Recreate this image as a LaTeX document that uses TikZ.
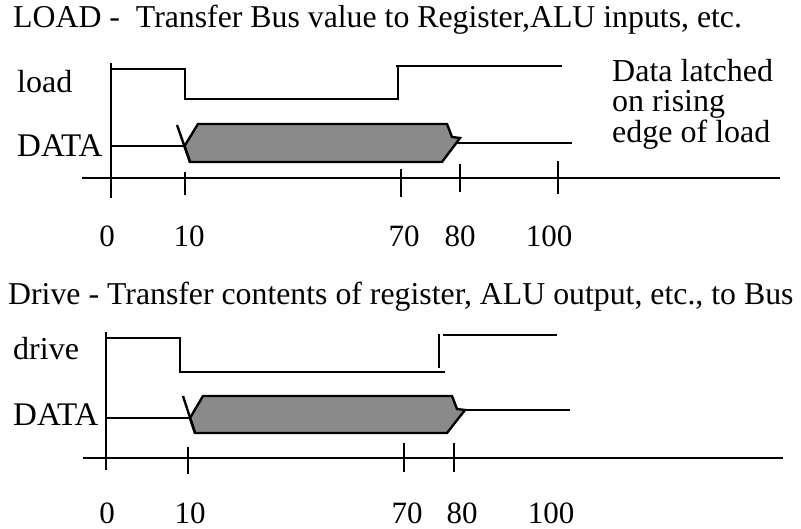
\documentclass[tikz,border=0pt]{standalone}
\usepackage{fontspec}
\setmainfont{Liberation Serif}
\begin{document}
\begin{tikzpicture}[x=1pt,y=-1pt,
  sig/.style={line width=2.4pt,line join=miter},
  lbl/.style={anchor=base west,inner sep=0pt,font=\fontsize{32}{31}\selectfont},
  num/.style={anchor=base,inner sep=0pt,font=\fontsize{31}{31}\selectfont},
  ttl/.style={anchor=base west,inner sep=0pt,font=\fontsize{31.8}{32}\selectfont},
  bus/.style={line width=2.4pt,line join=miter,fill={rgb,255:red,138;green,138;blue,138}}]
\useasboundingbox (0,0) rectangle (801,529);
% ---------- LOAD ----------
\node[ttl] (t1) at (13,28) {LOAD -\ \ Transfer Bus value to Register,ALU inputs, etc.};
\node[lbl] (l1) at (17,93) {load};
\node[lbl,font=\fontsize{33}{33}\selectfont] (d1) at (17,157) {DATA};
\draw[sig] (111,63) -- (111,198);
\draw[sig] (111,69) -- (185,69) -- (185,99) -- (398,99) -- (398,66) -- (562,66);
\draw[sig] (396,66) -- (398,66);
\draw[sig] (111,146) -- (185,146);
\draw[bus] (184.5,146) -- (198,124) -- (447,124) -- (452,137) -- (460,138) -- (442,162) -- (190,162) -- cycle;
\draw[sig] (177,125) -- (190,162);
\draw[sig] (456,143) -- (572,143);
\draw[sig] (82,178) -- (780,178);
\draw[sig] (185,172) -- (185,195);
\draw[sig] (401,169) -- (401,197);
\draw[sig] (460,164) -- (460,192);
\draw[sig] (558,161) -- (558,194);
\node[num] (a0) at (107,247) {0};
\node[num] (a10) at (189,247) {10};
\node[num] (a70) at (404,247) {70};
\node[num] (a80) at (460,247) {80};
\node[num] (a100) at (549,247) {100};
\node[lbl] (n1) at (612,82) {Data latched};
\node[lbl] (n2) at (612,112) {on rising};
\node[lbl] (n3) at (612,143) {edge of load};
% ---------- DRIVE ----------
\node[ttl] (t2) at (8,305) {Drive - Transfer contents of register, ALU output, etc., to Bus};
\node[lbl] (l2) at (13,360) {drive};
\node[lbl,font=\fontsize{33}{33}\selectfont] (d2) at (13,425) {DATA};
\draw[sig] (106,332) -- (106,470);
\draw[sig] (106,338) -- (180,338) -- (180,372) -- (445,372);
\draw[sig] (439,334) -- (439,368);
\draw[sig] (443,335) -- (557,335);
\draw[sig] (106,418) -- (190,418);
\draw[bus] (190,418) -- (203,396) -- (452,396) -- (457,409) -- (465,410) -- (447,433) -- (195,433) -- cycle;
\draw[sig] (183,396) -- (195,433);
\draw[sig] (463,410) -- (570,410);
\draw[sig] (83,458) -- (783,458);
\draw[sig] (188,447) -- (188,474);
\draw[sig] (404,443) -- (404,472);
\draw[sig] (454,443) -- (454,472);
\node[num] (b0) at (107,523) {0};
\node[num] (b10) at (190,523) {10};
\node[num] (b70) at (407,523) {70};
\node[num] (b80) at (462,523) {80};
\node[num] (b100) at (551,523) {100};
\end{tikzpicture}
\end{document}
